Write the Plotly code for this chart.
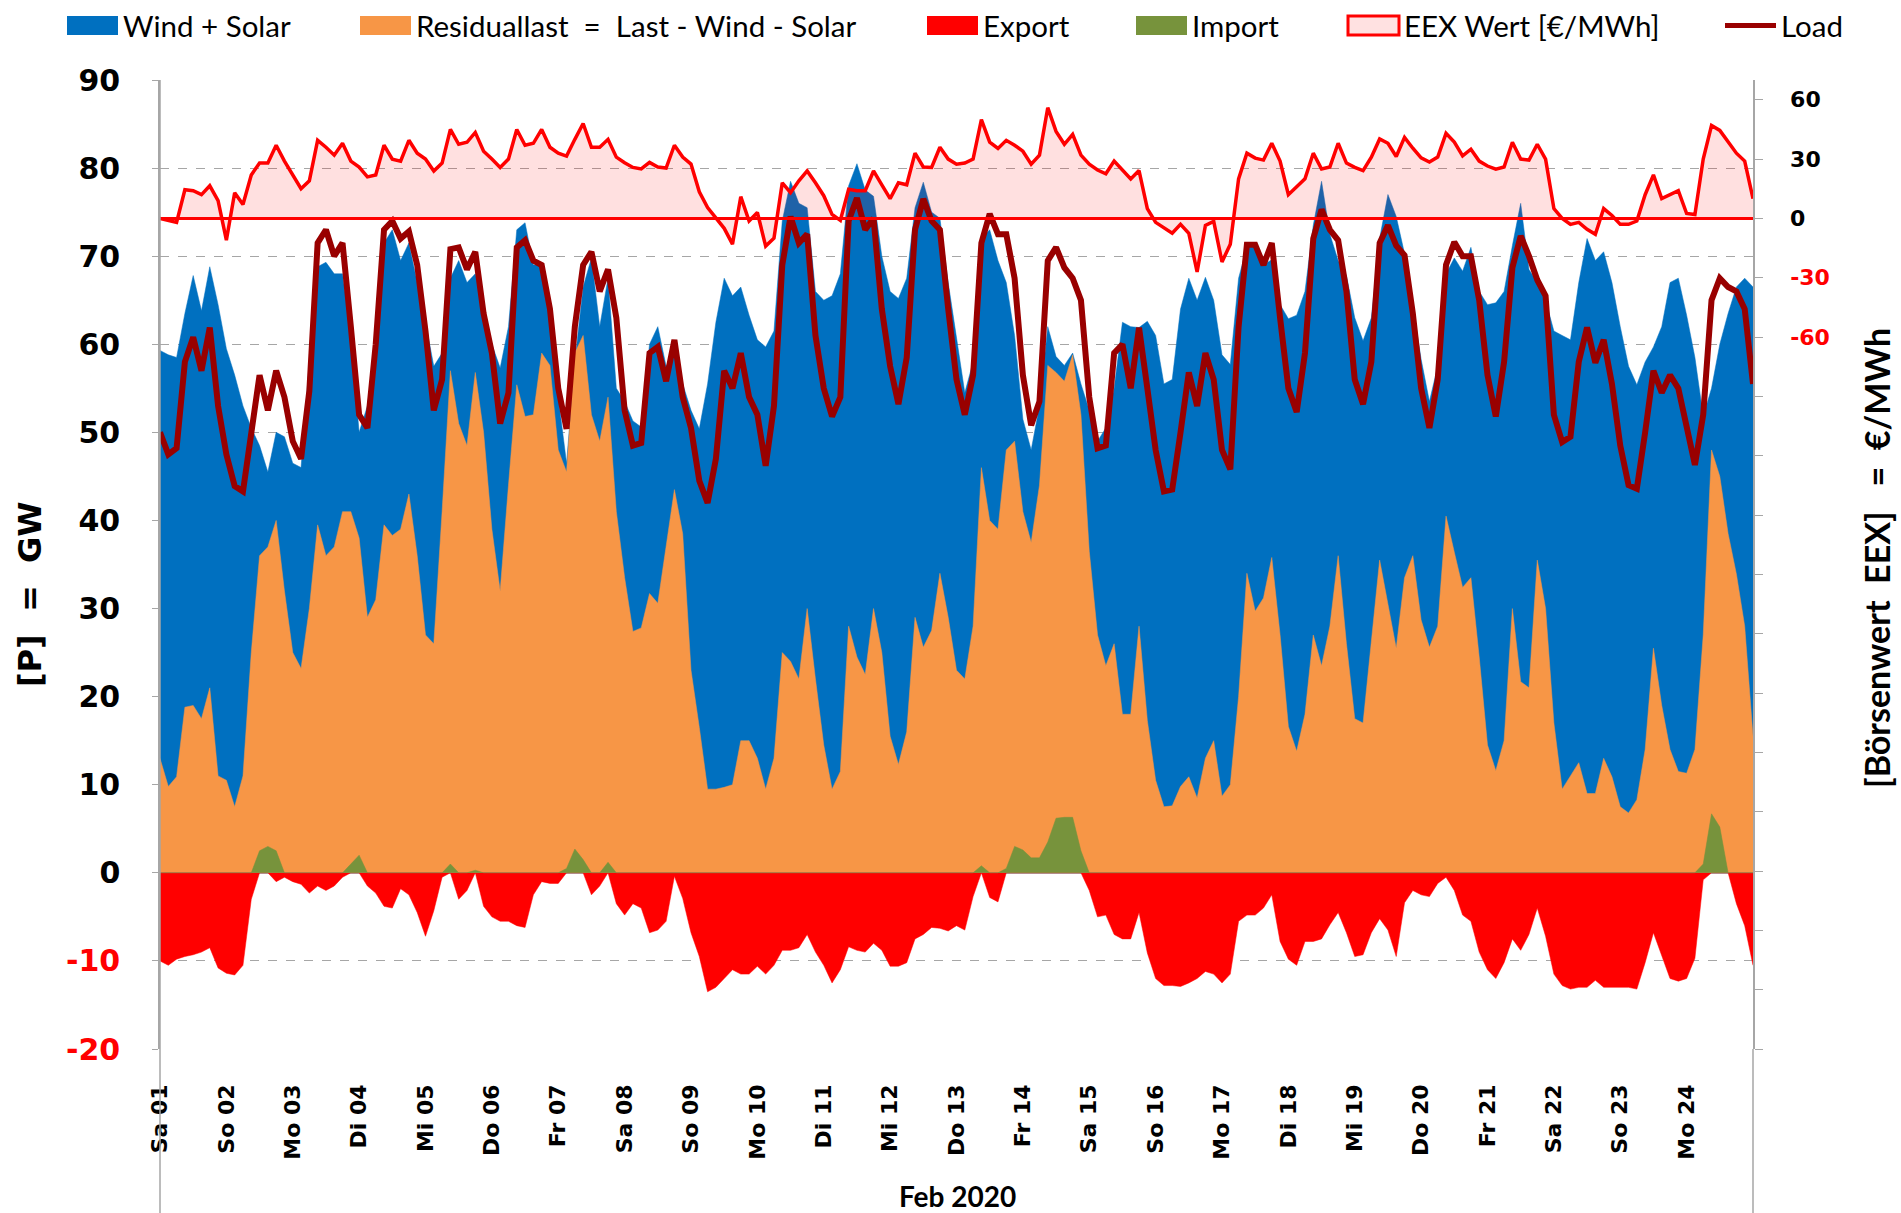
import pandas as pd
import plotly.graph_objects as go

# ---------------- data (3-hourly, 01 Feb 2020 00:00 ... 25 Feb 2020 00:00) ----------------
day_labels = ["Sa 01", "So 02", "Mo 03", "Di 04", "Mi 05", "Do 06", "Fr 07", "Sa 08",
              "So 09", "Mo 10", "Di 11", "Mi 12", "Do 13", "Fr 14", "Sa 15", "So 16",
              "Mo 17", "Di 18", "Mi 19", "Do 20", "Fr 21", "Sa 22", "So 23", "Mo 24"]

# top edge of the blue area (Residuallast + Wind + Solar), GW
wind_solar_top = [
    59.3, 58.8, 58.5, 63.5, 67.8, 63.8, 68.8, 64.5,
    59.5, 56.5, 53.0, 50.5, 48.5, 45.5, 50.0, 49.5,
    46.5, 46.0, 58.0, 68.8, 69.3, 68.0, 68.0, 61.0,
    50.0, 53.0, 60.0, 71.5, 73.0, 69.5, 71.5, 67.0,
    62.5, 57.5, 59.0, 67.5, 69.5, 67.0, 68.0, 64.0,
    60.0, 57.3, 62.0, 73.0, 73.8, 69.0, 69.0, 64.0,
    54.0, 46.5, 58.0, 66.5, 69.8, 62.0, 67.5, 55.0,
    53.5, 51.3, 50.6, 60.0, 62.0, 57.5, 59.0, 55.5,
    52.5, 50.4, 55.5, 62.5, 67.5, 65.5, 66.5, 63.3,
    60.5, 59.7, 61.5, 74.0, 78.5, 76.0, 75.5, 66.0,
    65.0, 65.5, 68.0, 78.0, 80.5, 77.5, 76.8, 70.0,
    66.0, 65.2, 67.5, 75.5, 78.4, 75.0, 74.3, 67.0,
    61.0, 54.5, 58.0, 72.0, 73.0, 69.5, 67.0, 61.0,
    51.5, 48.0, 53.0, 62.0, 58.6, 57.6, 59.0, 55.5,
    52.5, 49.0, 50.5, 55.0, 62.5, 62.0, 61.9, 62.6,
    61.0, 55.5, 56.0, 64.0, 67.5, 65.0, 67.6, 65.0,
    58.8, 57.7, 67.5, 71.0, 71.5, 69.0, 69.6, 64.5,
    62.9, 63.3, 66.0, 73.5, 78.5, 72.5, 69.5, 67.8,
    63.0, 60.4, 63.0, 72.0, 77.0, 74.5, 70.3, 64.5,
    58.3, 53.5, 57.5, 68.0, 69.8, 68.3, 71.0, 66.0,
    64.5, 64.7, 66.0, 71.2, 76.0, 68.5, 67.0, 65.0,
    61.5, 61.0, 60.5, 67.0, 72.0, 69.5, 70.5, 67.0,
    62.0, 57.5, 55.4, 58.0, 59.7, 62.0, 67.0, 67.5,
    63.3, 58.5, 51.8, 55.0, 60.0, 63.5, 66.5, 67.5,
    66.5]

# Residuallast = Last - Wind - Solar, GW
residual = [
    13.0, 9.8, 10.9, 18.8, 19.0, 17.5, 21.0, 11.0,
    10.5, 7.5, 11.0, 25.0, 36.0, 37.0, 40.0, 32.0,
    25.0, 23.2, 30.0, 39.5, 36.0, 37.0, 41.0, 41.0,
    38.0, 29.0, 31.0, 39.5, 38.3, 39.0, 43.0, 36.0,
    27.0, 26.0, 41.0, 57.0, 51.0, 48.5, 56.8, 50.0,
    39.0, 32.0, 44.0, 55.4, 51.8, 52.0, 59.0, 57.6,
    48.0, 45.5, 59.0, 61.0, 52.0, 49.0, 54.0, 41.0,
    33.5, 27.4, 27.8, 31.7, 30.6, 37.0, 43.5, 38.5,
    23.0, 16.5, 9.5, 9.5, 9.7, 10.0, 15.0, 15.0,
    13.0, 9.5, 13.0, 25.0, 24.0, 22.0, 30.0, 22.0,
    14.5, 9.5, 11.5, 28.0, 24.5, 22.5, 30.0, 25.0,
    15.5, 12.3, 16.0, 29.0, 25.6, 27.5, 34.0, 29.0,
    23.0, 22.0, 28.0, 46.0, 40.0, 39.0, 48.0, 49.0,
    41.0, 37.5, 44.0, 57.6, 56.8, 55.8, 58.8, 52.0,
    36.5, 27.0, 23.5, 26.0, 18.0, 18.0, 28.0, 17.3,
    10.5, 7.5, 7.6, 9.8, 10.9, 8.5, 13.0, 15.0,
    8.7, 10.0, 20.0, 34.0, 29.7, 31.2, 35.8, 27.0,
    16.6, 13.8, 18.0, 27.0, 23.5, 28.0, 36.0, 26.0,
    17.5, 17.0, 26.0, 35.5, 30.5, 25.5, 33.5, 36.0,
    28.7, 25.6, 28.0, 40.5, 36.4, 32.4, 33.5, 24.5,
    14.5, 11.6, 15.0, 30.0, 21.7, 21.0, 35.5, 30.0,
    17.0, 9.5, 11.0, 12.5, 9.0, 9.0, 13.0, 10.9,
    7.5, 6.8, 8.3, 14.0, 25.5, 19.0, 14.0, 11.5,
    11.3, 14.0, 27.0, 48.0, 45.0, 38.5, 33.9, 28.0,
    15.5]

# Load, GW
load = [
    50.0, 47.5, 48.2, 58.0, 60.8, 57.0, 61.9, 53.0,
    47.5, 43.9, 43.3, 50.0, 56.5, 52.5, 57.0, 54.0,
    49.0, 47.0, 54.7, 71.5, 73.0, 70.0, 71.5, 62.0,
    52.0, 50.5, 60.0, 73.0, 74.0, 72.0, 72.8, 69.0,
    61.5, 52.5, 56.0, 70.8, 71.0, 68.5, 70.5, 63.5,
    59.0, 51.0, 54.5, 71.0, 71.8, 69.5, 69.0, 64.0,
    55.0, 50.4, 62.0, 69.0, 70.5, 66.0, 68.5, 63.0,
    52.5, 48.5, 48.8, 59.0, 59.7, 55.8, 60.5, 54.0,
    50.5, 44.5, 42.0, 47.0, 57.0, 55.0, 59.0, 54.0,
    52.0, 46.2, 53.0, 69.0, 74.5, 71.5, 72.5, 61.0,
    55.0, 51.8, 54.0, 74.0, 76.6, 73.0, 74.3, 64.0,
    57.5, 53.2, 58.5, 73.0, 76.5, 74.0, 73.0, 64.0,
    56.0, 52.0, 56.5, 71.5, 74.8, 72.5, 72.5, 67.5,
    56.5, 50.8, 53.5, 69.5, 71.0, 68.7, 67.5, 65.0,
    54.0, 48.2, 48.5, 59.0, 60.0, 55.0, 61.9, 55.0,
    48.0, 43.3, 43.5, 50.0, 56.8, 53.0, 59.0, 56.0,
    48.0, 45.8, 62.0, 71.3, 71.3, 69.0, 71.5, 63.0,
    55.0, 52.3, 59.0, 72.0, 75.3, 73.0, 71.8, 66.0,
    56.0, 53.2, 58.0, 71.5, 73.5, 71.2, 70.1, 63.5,
    55.0, 50.5, 56.0, 69.0, 71.6, 70.0, 70.0, 65.0,
    56.5, 51.8, 58.0, 68.7, 72.3, 70.0, 67.3, 65.5,
    52.0, 48.9, 49.5, 58.0, 61.9, 57.9, 60.5, 55.5,
    48.5, 44.0, 43.6, 50.0, 57.0, 54.5, 56.5, 55.0,
    50.5, 46.3, 52.0, 65.0, 67.5, 66.5, 66.0, 64.0,
    55.5]

# EEX price, EUR/MWh
price = [
    0.0, -1.0, -2.0, 14.5, 14.0, 12.0, 16.5, 9.0,
    -11.0, 13.0, 7.0, 22.0, 28.0, 28.0, 37.0, 29.0,
    22.0, 15.0, 19.0, 39.5, 36.0, 32.0, 38.0, 29.0,
    26.0, 21.0, 22.0, 37.0, 30.0, 29.0, 39.5, 33.0,
    30.0, 24.0, 28.0, 45.0, 37.5, 38.5, 43.5, 34.0,
    30.0, 25.8, 30.0, 45.0, 37.0, 38.0, 45.0, 36.0,
    33.0, 31.5, 40.0, 48.0, 36.0, 36.0, 40.0, 31.0,
    28.2, 25.8, 25.0, 28.3, 26.0, 25.5, 37.0, 31.0,
    27.5, 13.5, 5.5, 0.0, -5.0, -13.0, 11.0, -1.3,
    3.0, -14.0, -10.0, 18.0, 13.0, 19.0, 24.0, 18.0,
    11.5, 2.0, -1.0, 14.7, 14.0, 14.0, 24.0, 17.0,
    10.0, 18.0, 17.0, 33.0, 26.0, 25.8, 36.0, 30.0,
    27.4, 28.0, 30.0, 50.0, 38.6, 35.4, 39.5, 37.0,
    34.0, 27.4, 32.0, 56.0, 44.0, 37.5, 42.5, 32.0,
    27.4, 24.5, 22.6, 29.0, 24.5, 20.0, 24.2, 5.0,
    -2.0, -5.0, -7.5, -3.0, -7.5, -27.0, -3.5, -1.5,
    -22.0, -13.0, 20.0, 33.0, 30.5, 29.5, 38.0, 29.0,
    12.0, 16.0, 20.0, 33.0, 25.0, 26.0, 38.0, 28.0,
    25.8, 24.2, 31.0, 40.2, 38.0, 31.3, 41.0, 35.5,
    30.6, 28.5, 31.0, 43.0, 38.6, 31.6, 35.0, 29.0,
    26.5, 24.9, 26.0, 38.5, 30.0, 29.5, 37.5, 30.0,
    5.0, 0.0, -3.0, -2.0, -5.5, -8.0, 5.0, 1.5,
    -3.0, -3.0, -1.3, 12.0, 22.0, 10.0, 12.0, 14.0,
    2.5, 2.0, 30.0, 47.0, 44.5, 38.5, 33.0, 29.0,
    10.0]

# Export (negative), GW
export = [
    -10.0, -10.5, -9.8, -9.5, -9.3, -9.0, -8.5, -10.8,
    -11.4, -11.6, -10.5, -3.0, 0.0, 0.0, -1.0, -0.5,
    -1.0, -1.3, -2.3, -1.5, -2.0, -1.5, -0.5, 0.0,
    0.0, -1.5, -2.3, -3.8, -4.0, -1.8, -2.5, -4.5,
    -7.2, -4.3, -0.5, 0.0, -3.0, -2.0, 0.0, -3.8,
    -5.0, -5.5, -5.5, -6.0, -6.2, -2.5, -1.0, -1.2,
    -1.2, 0.0, 0.0, 0.0, -2.5, -1.5, 0.0, -3.5,
    -4.8, -3.5, -4.0, -6.8, -6.5, -5.5, -0.4, -2.9,
    -6.8, -9.5, -13.5, -13.0, -12.0, -11.0, -11.5, -11.5,
    -10.6, -11.5, -10.5, -8.8, -8.8, -8.5, -7.0, -9.0,
    -10.5, -12.5, -11.0, -8.4, -8.8, -9.0, -8.0, -8.8,
    -10.6, -10.6, -10.2, -7.5, -7.0, -6.2, -6.3, -6.6,
    -6.0, -6.5, -2.7, 0.0, -2.8, -3.3, 0.0, 0.0,
    0.0, 0.0, 0.0, 0.0, 0.0, 0.0, 0.0, 0.0,
    -2.0, -5.0, -4.8, -7.0, -7.5, -7.5, -4.5, -9.1,
    -12.0, -12.8, -12.8, -12.9, -12.5, -12.0, -11.2, -11.5,
    -12.5, -11.5, -5.5, -4.8, -4.8, -4.0, -2.5, -7.8,
    -9.8, -10.5, -7.8, -7.8, -7.5, -5.9, -4.5, -6.8,
    -9.5, -9.3, -6.8, -5.2, -6.5, -9.5, -3.4, -2.0,
    -2.5, -2.7, -1.2, -0.5, -2.0, -4.8, -5.5, -9.0,
    -11.0, -12.0, -10.2, -7.5, -8.8, -7.0, -4.0, -7.2,
    -11.5, -12.8, -13.2, -13.0, -13.0, -12.2, -13.0, -13.0,
    -13.0, -13.0, -13.2, -10.2, -6.8, -9.5, -12.0, -12.3,
    -12.0, -9.7, -0.8, 0.0, 0.0, 0.0, -3.5, -6.0,
    -10.5]

# Import, GW
imports = [
    0, 0, 0, 0, 0, 0, 0, 0,
    0, 0, 0, 0, 2.5, 3.0, 2.5, 0,
    0, 0, 0, 0, 0, 0, 0, 1.0,
    2.0, 0, 0, 0, 0, 0, 0, 0,
    0, 0, 0, 1.0, 0, 0, 0.3, 0,
    0, 0, 0, 0, 0, 0, 0, 0,
    0, 0.5, 2.7, 1.5, 0, 0, 1.2, 0,
    0, 0, 0, 0, 0, 0, 0, 0,
    0, 0, 0, 0, 0, 0, 0, 0,
    0, 0, 0, 0, 0, 0, 0, 0,
    0, 0, 0, 0, 0, 0, 0, 0,
    0, 0, 0, 0, 0, 0, 0, 0,
    0, 0, 0, 0.8, 0, 0, 0.5, 3.0,
    2.6, 1.7, 1.7, 3.5, 6.2, 6.3, 6.3, 2.5,
    0, 0, 0, 0, 0, 0, 0, 0,
    0, 0, 0, 0, 0, 0, 0, 0,
    0, 0, 0, 0, 0, 0, 0, 0,
    0, 0, 0, 0, 0, 0, 0, 0,
    0, 0, 0, 0, 0, 0, 0, 0,
    0, 0, 0, 0, 0, 0, 0, 0,
    0, 0, 0, 0, 0, 0, 0, 0,
    0, 0, 0, 0, 0, 0, 0, 0,
    0, 0, 0, 0, 0, 0, 0, 0,
    0, 0, 1.0, 6.7, 5.2, 0, 0, 0,
    0]

gw_ticks = [-20, -10, 0, 10, 20, 30, 40, 50, 60, 70, 80, 90]
eur_ticks = list(range(-420, 61, 30))
eur_labelled = [-60, -30, 0, 30, 60]

legend_names = ["Wind + Solar", "Residuallast  =  Last - Wind - Solar", "Export",
                "Import", "EEX Wert [€/MWh]", "Load"]

# ---------------- figure ----------------
W, H = 1901, 1213
ML, MR, MT, MB = 160, 148, 80, 164
PW, PH = W - ML - MR, H - MT - MB

def px_x(X):  # page pixel -> paper x
    return (X - ML) / PW

def px_y(Y):  # page pixel -> paper y
    return (H - MB - Y) / PH

times = pd.date_range("2020-02-01 00:00", periods=len(wind_solar_top), freq="3h")
days = pd.date_range("2020-02-01", periods=len(day_labels), freq="D")

BLUE = "#0070C0"
ORANGE = "#F79646"
RED = "#FF0000"
GREEN = "#77933C"
LOADC = "#990000"
PINK = "#FFE1E1"
GRID = "#A6A6A6"

fig = go.Figure()
fig.add_trace(go.Scatter(x=times, y=wind_solar_top, name=legend_names[0], mode="lines",
                         line=dict(color=BLUE, width=0.5), fill="tozeroy", fillcolor=BLUE,
                         hoverinfo="skip"))
fig.add_trace(go.Scatter(x=times, y=residual, name=legend_names[1], mode="lines",
                         line=dict(color=ORANGE, width=0.5), fill="tozeroy", fillcolor=ORANGE,
                         hoverinfo="skip"))
fig.add_trace(go.Scatter(x=times, y=export, name=legend_names[2], mode="lines",
                         line=dict(color=RED, width=0.5), fill="tozeroy", fillcolor=RED,
                         hoverinfo="skip"))
fig.add_trace(go.Scatter(x=times, y=imports, name=legend_names[3], mode="lines",
                         line=dict(color=GREEN, width=0.5), fill="tozeroy", fillcolor=GREEN,
                         hoverinfo="skip"))
fig.add_trace(go.Scatter(x=times, y=price, name=legend_names[4], mode="lines", yaxis="y2",
                         line=dict(color=RED, width=3.5), fill="tozeroy",
                         fillcolor="rgba(255,0,0,0.12)", hoverinfo="skip"))
fig.add_trace(go.Scatter(x=times, y=load, name=legend_names[5], mode="lines", yaxis="y3",
                         line=dict(color=LOADC, width=6), hoverinfo="skip"))

def red_if_neg(v):
    return f'<span style="color:{RED}">{v}</span>' if v < 0 else str(v)

NB = "\u00a0"

# ---- legend row drawn as shapes + text (Excel-style wide swatches) ----
sw_left = [67, 360, 927, 1136, 1348, 1725]
sw_w = 51
sw_top, sw_bot, leg_mid = 16, 35, 25.5
sw_fill = [BLUE, ORANGE, RED, GREEN, PINK, None]
shapes = []
annotations = []
for i, name in enumerate(legend_names):
    x0 = px_x(sw_left[i])
    x1 = px_x(sw_left[i] + sw_w)
    if sw_fill[i] is None:
        shapes.append(dict(type="line", xref="paper", yref="paper", x0=x0, x1=x1,
                           y0=px_y(leg_mid), y1=px_y(leg_mid),
                           line=dict(color=LOADC, width=5)))
    else:
        border = dict(color=RED, width=3) if sw_fill[i] == PINK else dict(width=0)
        shapes.append(dict(type="rect", xref="paper", yref="paper", x0=x0, x1=x1,
                           y0=px_y(sw_bot), y1=px_y(sw_top), fillcolor=sw_fill[i], line=border))
    annotations.append(dict(text=name, xref="paper", yref="paper",
                            x=px_x(sw_left[i] + sw_w + 3), y=px_y(leg_mid),
                            xanchor="left", yanchor="middle", showarrow=False,
                            font=dict(family="Lato, Liberation Sans", size=29.5, color="black")))

shapes += [
    dict(type="line", xref="paper", x0=0, x1=1, yref="y2", y0=0, y1=0,
         line=dict(color=RED, width=3), layer="above"),
    dict(type="line", xref="paper", x0=0, x1=0, yref="paper", y0=px_y(H), y1=1,
         line=dict(color=GRID, width=1.5), layer="above"),
    dict(type="line", xref="paper", x0=1, x1=1, yref="paper", y0=px_y(H), y1=0,
         line=dict(color=GRID, width=1.5), layer="above"),
]

annotations += [
    dict(text="[P]  =  GW", xref="paper", yref="paper", x=px_x(30), y=px_y(594),
         textangle=-90, showarrow=False, xanchor="center", yanchor="middle",
         font=dict(family="DejaVu Sans", size=32, color="black", weight="bold")),
    dict(text="[Börsenwert  EEX]   =  €/MWh", xref="paper", yref="paper", x=px_x(1876),
         y=px_y(558), textangle=-90, showarrow=False, xanchor="center", yanchor="middle",
         font=dict(family="Lato, Liberation Sans", size=34, color="black", weight="bold")),
    dict(text="Feb 2020", xref="paper", yref="paper", x=px_x(957), y=px_y(1196),
         showarrow=False, xanchor="center", yanchor="middle",
         font=dict(family="Lato, Liberation Sans", size=28, color="black", weight="bold")),
]

fig.update_layout(
    width=W, height=H,
    margin=dict(l=ML, r=MR, t=MT, b=MB, autoexpand=False),
    paper_bgcolor="white", plot_bgcolor="white",
    showlegend=False,
    xaxis=dict(type="date", range=[days[0], days[0] + pd.Timedelta(days=24)],
               tickmode="array", tickvals=list(days), ticktext=day_labels,
               tickangle=-90, ticks="", showgrid=False, showline=False, zeroline=False,
               ticklabelstandoff=30,
               tickfont=dict(family="DejaVu Sans", size=22, color="black", weight="bold")),
    yaxis=dict(range=[-20, 90], tickmode="array", tickvals=gw_ticks,
               ticktext=[red_if_neg(v) for v in gw_ticks],
               tickfont=dict(family="DejaVu Sans", size=30, color="black", weight="bold"),
               showgrid=True, gridcolor=GRID, griddash="dash", gridwidth=1,
               zeroline=True, zerolinecolor=GRID, zerolinewidth=1.5,
               showline=True, linecolor=GRID, linewidth=1.5,
               ticks="outside", ticklen=6, tickcolor=GRID, ticklabelstandoff=26),
    yaxis2=dict(range=[-420, 70], overlaying="y", side="right", tickmode="array",
                tickvals=eur_ticks,
                ticktext=[NB * 3 + red_if_neg(v) if v in eur_labelled else "" for v in eur_ticks],
                tickfont=dict(family="DejaVu Sans", size=22, color="black", weight="bold"),
                showgrid=False, zeroline=False, showline=True, linecolor=GRID, linewidth=1.5,
                ticks="outside", ticklen=8, tickcolor=GRID),
    yaxis3=dict(range=[-20, 90], overlaying="y", visible=False),
    shapes=shapes,
    annotations=annotations,
)

fig.write_html("out.html", config={"displayModeBar": False},
               post_script="document.body.style.margin='0';")
